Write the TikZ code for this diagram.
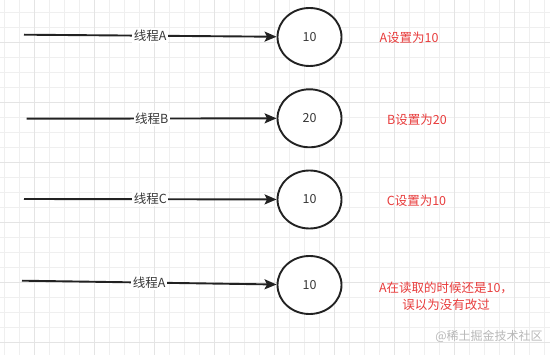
\documentclass[tikz,border=0pt]{standalone}
\usepackage{fontspec}
\setmainfont{Noto Sans CJK SC}
\usetikzlibrary{shapes.geometric, arrows.meta, positioning, calc}
\usepackage{xcolor}
\definecolor{inkgray}{HTML}{222222}
\definecolor{notered}{HTML}{E83C3C}
\definecolor{gridminor}{HTML}{EFEFEF}
\definecolor{gridmajor}{HTML}{E4E4E4}

\begin{document}
\begin{tikzpicture}[x=1pt, y=-1pt,
            value/.style={ellipse, draw=inkgray, line width=1.9pt, fill=white, minimum width=64pt, minimum height=58pt, text=inkgray!90, font=\fontsize{12.5}{15}\selectfont},
            flow/.style={draw=inkgray, line width=1.9pt, -{Stealth[length=12pt, width=10pt, inset=2.5pt]}},
            thread/.style={fill=white, inner sep=1.5pt, text=inkgray!90, font=\fontsize{12.5}{15}\selectfont},
            note/.style={text=notered, inner sep=0pt, font=\fontsize{12.5}{17}\selectfont},
            watermark/.style={text=black!28, inner sep=0pt, font=\fontsize{12}{14}\selectfont}]

        \useasboundingbox (0,0) rectangle (550,355);
        \fill[white] (0,0) rectangle (550,355);

        % background grid
        \foreach \gx in {4,19,...,549} \draw[gridminor, line width=0.8pt] (\gx,0) -- (\gx,355);
        \foreach \gy in {12,27,...,354} \draw[gridminor, line width=0.8pt] (0,\gy) -- (550,\gy);
        \foreach \gx in {34,94,...,549} \draw[gridmajor, line width=0.8pt] (\gx,0) -- (\gx,355);
        \foreach \gy in {42,102,...,354} \draw[gridmajor, line width=0.8pt] (0,\gy) -- (550,\gy);

        % shared value
        \node [value] (val1) at (309.5,37) {10};
        \node [value] (val2) at (309.5,118.3) {20};
        \node [value] (val3) at (309.5,199.5) {10};
        \node [value] (val4) at (309.5,285) {10};

        \coordinate (thr1) at (24,34.7);
        \coordinate (thr2) at (26.7,118.7);
        \coordinate (thr3) at (24,199);
        \coordinate (thr4) at (22,280.7);

        % threads write / read
        \draw[flow] (thr1) -- node[thread] {线程A} (val1);
        \draw[flow] (thr2) -- node[thread] {线程B} (val2);
        \draw[flow] (thr3) -- node[thread] {线程C} (val3);
        \draw[flow] (thr4) -- node[thread] {线程A} (val4);

        % notes
        \node [note] (note1) at (409,38) {A设置为10};
        \node [note] (note2) at (417,119.5) {B设置为20};
        \node [note] (note3) at (416.5,201) {C设置为10};
        \node [note, align=center] (note4) at (446,296) {A在读取的时候还是10，\\误以为没有改过};

        \node [watermark] (wm) at (489,336) {@稀土掘金技术社区};

    \end{tikzpicture}
\end{document}
